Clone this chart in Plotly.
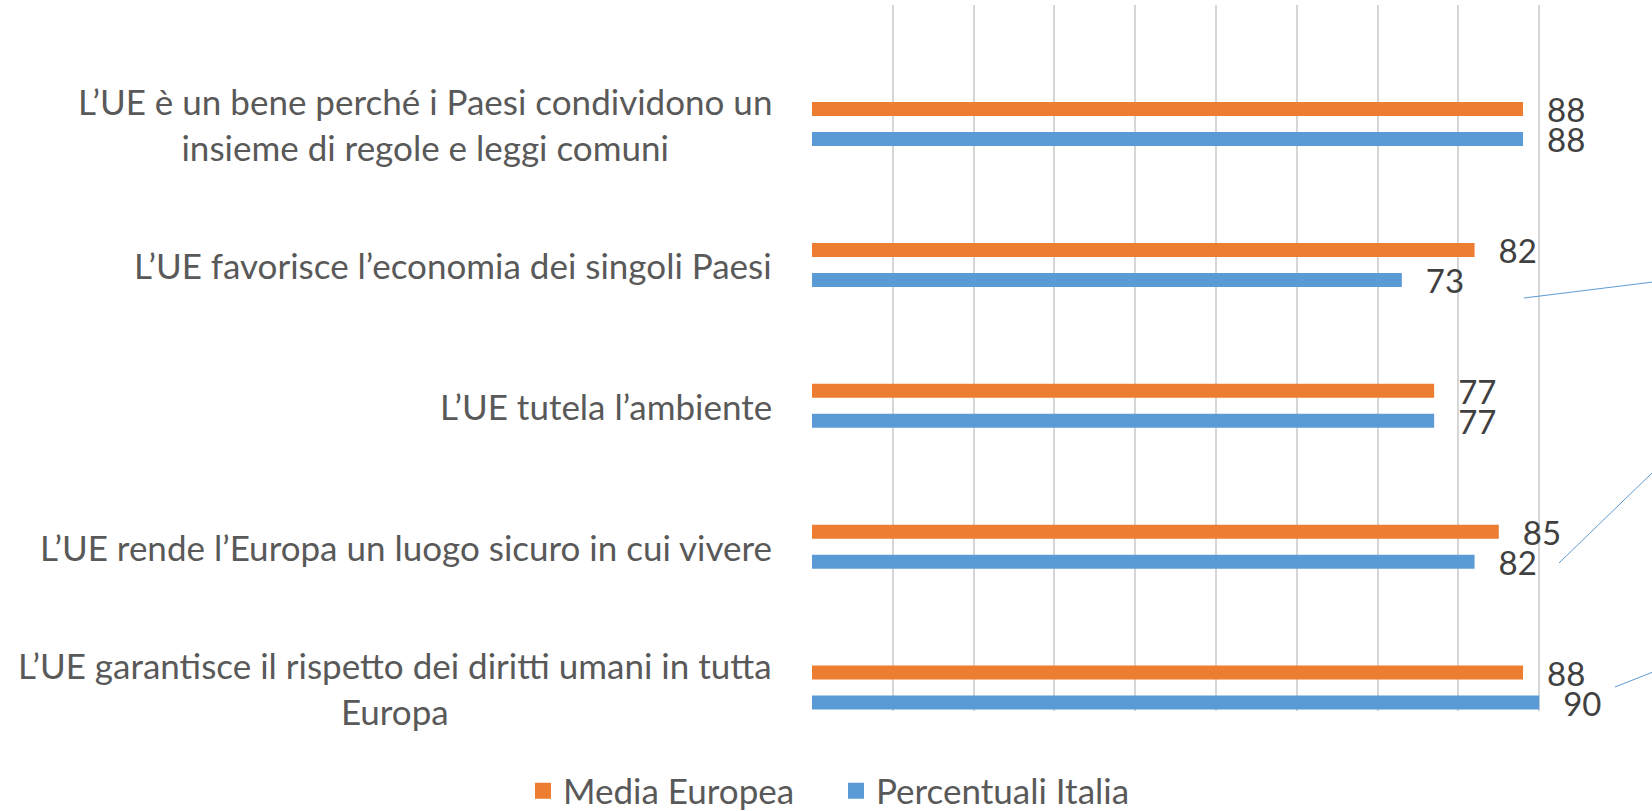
import plotly.graph_objects as go

categories = [
    "L’UE è un bene perché i Paesi condividono un<br>insieme di regole e leggi comuni",
    "L’UE favorisce l’economia dei singoli Paesi",
    "L’UE tutela l’ambiente",
    "L’UE rende l’Europa un luogo sicuro in cui vivere",
    "L’UE garantisce il rispetto dei diritti umani in tutta<br>Europa",
]
cat_ids = ["c1", "c2", "c3", "c4", "c5"]
media_europea = [88, 82, 77, 85, 88]
percentuali_italia = [88, 73, 77, 82, 90]
series_names = ["Media Europea", "Percentuali Italia"]

ORANGE = "#ED7D31"
BLUE = "#5B9BD5"
FONT = "Lato"
W, H = 1652, 811
ML, MR, MT, MB = 812, 32, 5, 100
PW = W - ML - MR
PH = H - MT - MB

fig = go.Figure()
pad = "\u00a0\u00a0\u2009"
for name, vals, col in [(series_names[0], media_europea, ORANGE),
                        (series_names[1], percentuali_italia, BLUE)]:
    fig.add_trace(go.Bar(
        x=vals, y=cat_ids, orientation="h", name=name,
        marker=dict(color=col, line=dict(width=0)),
        text=[pad + str(v) for v in vals], textposition="outside",
        textfont=dict(family=FONT, size=33, color="#404040"),
        constraintext="none", cliponaxis=False, showlegend=False,
        hoverinfo="skip",
    ))
    fig.add_trace(go.Scatter(
        x=[None], y=[None], mode="markers", name=name,
        marker=dict(symbol="square", size=16, color=col), showlegend=True,
        hoverinfo="skip",
    ))

for cid, label in zip(cat_ids, categories):
    fig.add_annotation(
        x=(774 - ML) / PW, xref="paper", y=cid, yref="y",
        text=label, showarrow=False, xanchor="right", yanchor="middle",
        align="center", font=dict(family=FONT, size=35, color="#595959"),
    )

def px(p):
    return (p - ML) / PW

def py(p):
    return (H - MB - p) / PH

leaders = [((1524, 298), (1653, 282)), ((1559, 563), (1653, 472)), ((1615, 687), (1653, 672))]
for (x0, y0), (x1, y1) in leaders:
    fig.add_shape(type="line", xref="paper", yref="paper",
                  x0=px(x0), y0=py(y0), x1=px(x1), y1=py(y1),
                  line=dict(color=BLUE, width=1))

fig.update_layout(
    width=W, height=H,
    margin=dict(l=ML, r=MR, t=MT, b=MB, autoexpand=False),
    paper_bgcolor="white", plot_bgcolor="white",
    barmode="group", bargap=0.574, bargroupgap=0.533,
    font=dict(family=FONT, color="#595959"),
    xaxis=dict(range=[0, 100], dtick=10, showticklabels=False, showgrid=True,
               gridcolor="#D6D6D6", gridwidth=1.5, zeroline=False, showline=False,
               fixedrange=True),
    yaxis=dict(type="category", categoryorder="array", categoryarray=cat_ids,
               range=[4.166, -0.845], showticklabels=False, showgrid=False,
               zeroline=False, showline=False, fixedrange=True),
    legend=dict(orientation="h", x=(523 - ML) / PW, xanchor="left",
                y=py(791), yanchor="middle",
                font=dict(family=FONT, size=35, color="#595959"),
                entrywidth=268, entrywidthmode="pixels",
                bgcolor="rgba(0,0,0,0)"),
    showlegend=True,
)

fig.write_html("out.html", config={"displayModeBar": False},
               post_script="document.body.style.margin='0';document.body.style.overflow='hidden';")
